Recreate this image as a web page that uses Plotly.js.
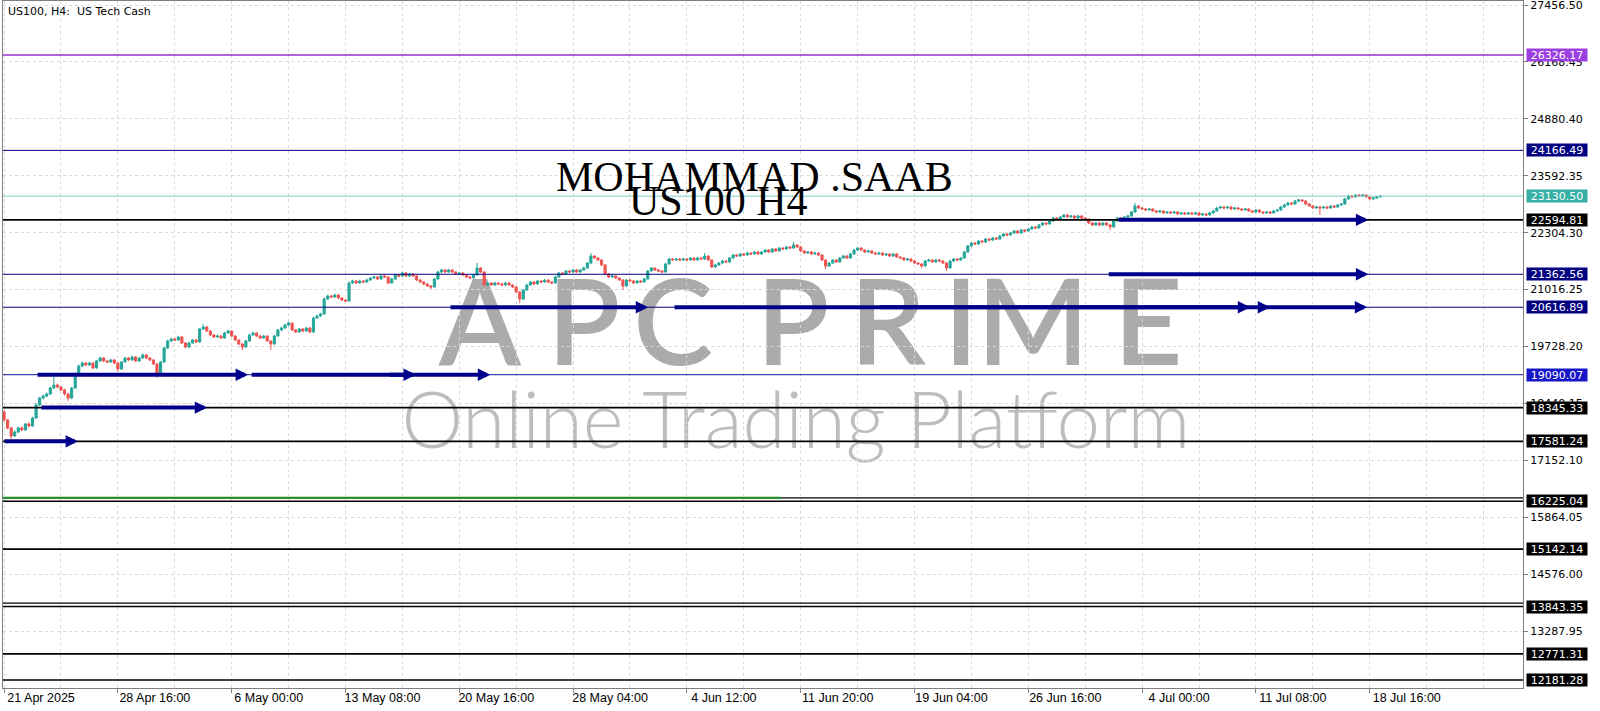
<!DOCTYPE html>
<html>
<head>
<meta charset="utf-8">
<script src="https://cdn.plot.ly/plotly-3.0.1.min.js"></script>
<style>html,body{margin:0;padding:0;background:#fff;}#chart{width:1600px;height:711px;}</style>
</head>
<body>
<div id="chart"></div>
<script>
// ---- Candle data (US100 H4), bar by bar ----
const openP = [
18246,18065,17884,17703,17794,17884,17839,17975,17929,18110,
18405,18563,18608,18653,18789,18857,18812,18744,18653,18563,
18789,19106,19287,19355,19310,19355,19242,19400,19468,19400,
19378,19423,19355,19219,19378,19468,19423,19491,19400,19468,
19536,19468,19423,19332,19129,19378,19694,19853,19898,19875,
19943,19808,19717,19808,19875,19830,20124,20170,20079,19989,
19943,19966,19921,20034,20079,19966,19875,19785,19717,19853,
19989,20034,19966,19921,19966,19853,19785,19966,20102,20147,
20215,20260,20102,20056,20124,20079,20147,20056,20373,20419,
20464,20803,20871,20849,20894,20826,20781,20758,21165,21211,
21165,21211,21188,21233,21278,21301,21256,21324,21301,21165,
21256,21346,21324,21392,21324,21369,21324,21233,21188,21143,
21097,21075,21256,21414,21460,21414,21460,21414,21369,21392,
21346,21301,21278,21346,21505,21414,21120,21165,21120,21165,
21143,21120,21165,21120,21075,20962,20803,21007,21120,21188,
21143,21211,21188,21233,21188,21165,21301,21392,21369,21437,
21414,21460,21414,21460,21505,21618,21776,21731,21686,21573,
21369,21301,21324,21278,21233,21097,21233,21211,21165,21211,
21188,21256,21437,21505,21460,21437,21414,21595,21708,21686,
21708,21686,21708,21686,21731,21686,21731,21708,21776,21686,
21527,21573,21618,21663,21641,21731,21799,21776,21822,21799,
21844,21822,21867,21822,21867,21912,21867,21935,21890,21957,
21935,21980,21957,22025,21980,21890,21844,21867,21822,21844,
21799,21686,21550,21618,21686,21641,21731,21776,21731,21822,
21912,21957,21912,21867,21890,21844,21822,21844,21799,21822,
21776,21822,21754,21731,21686,21708,21663,21618,21595,21550,
21663,21686,21641,21686,21663,21618,21505,21663,21708,21686,
21731,21867,22003,22071,22048,22116,22093,22161,22138,22184,
22161,22229,22274,22252,22297,22342,22297,22365,22342,22387,
22433,22410,22478,22523,22501,22568,22636,22614,22659,22704,
22659,22682,22636,22682,22636,22614,22523,22478,22523,22478,
22523,22478,22433,22568,22636,22614,22659,22682,22772,22908,
22863,22840,22817,22840,22795,22772,22795,22750,22772,22750,
22772,22727,22750,22727,22750,22727,22750,22704,22727,22704,
22750,22795,22863,22885,22863,22885,22840,22863,22840,22817,
22840,22795,22772,22817,22772,22750,22772,22750,22795,22817,
22885,22931,22976,22953,23021,23044,23021,22953,22908,22863,
22885,22863,22885,22863,22908,22885,22931,22953,23066,23134,
23112,23157,23134,23157,23112,23066,23089,23112
];
const highP = [
18290,18090,17910,17830,17915,17920,18000,18010,18140,18450,
18590,18640,18690,18820,19038,18890,18840,18770,18680,18810,
19140,19320,19390,19380,19385,19370,19425,19500,19490,19430,
19450,19445,19370,19400,19495,19490,19520,19510,19490,19570,
19555,19490,19440,19350,19400,19720,19880,19930,19925,19975,
19960,19830,19835,19900,19895,20150,20237,20190,20100,20010,
19995,19985,20060,20110,20095,19985,19890,19800,19875,20015,
20065,20050,19985,19990,19980,19870,19990,20130,20175,20240,
20290,20275,20125,20150,20140,20170,20165,20400,20445,20490,
20835,20900,20895,20925,20910,20845,20800,21195,21240,21230,
21235,21230,21260,21300,21330,21320,21350,21345,21320,21280,
21375,21370,21420,21410,21395,21390,21340,21250,21205,21160,
21120,21280,21440,21490,21480,21485,21475,21430,21415,21410,
21360,21320,21370,21618,21525,21430,21190,21185,21190,21180,
21165,21185,21180,21140,21090,20980,21030,21145,21210,21205,
21235,21230,21255,21250,21210,21325,21415,21410,21460,21455,
21485,21475,21480,21530,21640,21844,21790,21750,21700,21590,
21385,21350,21340,21295,21250,21255,21250,21230,21235,21230,
21280,21460,21530,21520,21480,21455,21620,21730,21725,21730,
21725,21735,21725,21755,21750,21755,21750,21844,21790,21700,
21600,21640,21690,21680,21755,21825,21815,21845,21840,21870,
21860,21890,21885,21890,21935,21930,21960,21950,21980,21975,
22005,22000,22093,22045,21995,21905,21890,21885,21870,21860,
21815,21700,21640,21710,21705,21755,21800,21795,21845,21935,
21980,21975,21930,21915,21905,21865,21870,21860,21845,21840,
21845,21840,21770,21750,21730,21725,21680,21640,21615,21685,
21710,21705,21710,21705,21680,21635,21685,21730,21725,21755,
21890,22025,22095,22090,22140,22135,22185,22180,22205,22200,
22250,22300,22290,22320,22365,22360,22390,22385,22410,22455,
22450,22500,22545,22540,22590,22660,22655,22680,22725,22720,
22705,22700,22705,22700,22655,22630,22540,22545,22540,22545,
22540,22495,22590,22660,22655,22680,22705,22795,22976,22925,
22885,22860,22865,22855,22815,22820,22810,22795,22790,22795,
22790,22775,22770,22775,22770,22775,22765,22750,22745,22775,
22820,22885,22910,22905,22910,22900,22885,22880,22860,22865,
22855,22815,22840,22835,22790,22795,22790,22820,22840,22910,
22955,23000,22995,23045,23070,23060,23040,22970,22925,22910,
22905,22910,22905,22930,22925,22955,22975,23090,23160,23155,
23180,23175,23180,23175,23130,23110,23135,23150
];
const lowP = [
18030,17850,17635,17680,17770,17810,17820,17900,17910,18090,
18380,18530,18580,18630,18770,18790,18720,18620,18495,18540,
18770,19080,19260,19285,19290,19215,19225,19385,19375,19350,
19360,19330,19151,19200,19360,19400,19410,19380,19385,19450,
19445,19400,19310,19016,19110,19360,19675,19830,19850,19860,
19785,19690,19700,19790,19805,19815,20100,20055,19965,19920,
19925,19900,19905,20015,19945,19850,19760,19649,19700,19835,
19970,19945,19895,19900,19830,19649,19770,19950,20085,20125,
20195,20080,20035,20040,20055,20060,20030,20040,20350,20400,
20450,20785,20825,20830,20805,20760,20735,20740,21145,21140,
21150,21165,21170,21215,21260,21235,21240,21280,21140,21150,
21240,21300,21310,21300,21305,21300,21210,21165,21120,21075,
21030,21060,21240,21395,21395,21400,21390,21350,21350,21325,
21280,21255,21265,21330,21390,21095,21100,21100,21105,21120,
21095,21100,21100,21050,20935,20713,20785,20990,21100,21120,
21125,21165,21170,21165,21140,21150,21285,21345,21350,21395,
21400,21395,21400,21445,21490,21600,21710,21665,21550,21345,
21280,21285,21255,21210,21007,21080,21190,21145,21150,21165,
21170,21240,21420,21440,21415,21390,21400,21580,21665,21670,
21665,21670,21665,21670,21665,21670,21690,21690,21665,21505,
21505,21555,21600,21620,21625,21715,21755,21760,21780,21785,
21800,21805,21800,21805,21850,21845,21850,21870,21875,21915,
21920,21935,21940,21960,21870,21820,21825,21800,21805,21775,
21665,21482,21530,21600,21620,21625,21715,21710,21715,21805,
21895,21890,21845,21850,21820,21800,21805,21780,21780,21755,
21760,21735,21710,21665,21670,21640,21595,21575,21505,21535,
21645,21620,21625,21640,21595,21437,21490,21645,21665,21670,
21715,21850,21985,22025,22030,22070,22075,22115,22120,22140,
22145,22210,22230,22235,22280,22275,22280,22320,22325,22370,
22390,22395,22460,22480,22485,22550,22595,22595,22640,22640,
22640,22615,22620,22615,22590,22500,22455,22460,22455,22460,
22455,22365,22415,22550,22595,22595,22640,22665,22755,22840,
22820,22795,22800,22775,22750,22755,22730,22735,22730,22735,
22705,22710,22705,22710,22705,22710,22685,22685,22685,22690,
22735,22780,22845,22845,22845,22820,22825,22820,22795,22800,
22775,22750,22755,22750,22730,22735,22730,22735,22780,22800,
22865,22915,22935,22935,23000,23000,22930,22885,22840,22845,
22704,22845,22845,22845,22865,22865,22915,22935,23050,23090,
23095,23115,23115,23090,23045,23050,23070,23095
];
const closeP = [
18065,17884,17703,17794,17884,17839,17975,17929,18110,18405,
18563,18608,18653,18789,18857,18812,18744,18653,18563,18789,
19106,19287,19355,19310,19355,19242,19400,19468,19400,19378,
19423,19355,19219,19378,19468,19423,19491,19400,19468,19536,
19468,19423,19332,19129,19378,19694,19853,19898,19875,19943,
19808,19717,19808,19875,19830,20124,20170,20079,19989,19943,
19966,19921,20034,20079,19966,19875,19785,19717,19853,19989,
20034,19966,19921,19966,19853,19785,19966,20102,20147,20215,
20260,20102,20056,20124,20079,20147,20056,20373,20419,20464,
20803,20871,20849,20894,20826,20781,20758,21165,21211,21165,
21211,21188,21233,21278,21301,21256,21324,21301,21165,21256,
21346,21324,21392,21324,21369,21324,21233,21188,21143,21097,
21075,21256,21414,21460,21414,21460,21414,21369,21392,21346,
21301,21278,21346,21505,21414,21120,21165,21120,21165,21143,
21120,21165,21120,21075,20962,20803,21007,21120,21188,21143,
21211,21188,21233,21188,21165,21301,21392,21369,21437,21414,
21460,21414,21460,21505,21618,21776,21731,21686,21573,21369,
21301,21324,21278,21233,21097,21233,21211,21165,21211,21188,
21256,21437,21505,21460,21437,21414,21595,21708,21686,21708,
21686,21708,21686,21731,21686,21731,21708,21776,21686,21527,
21573,21618,21663,21641,21731,21799,21776,21822,21799,21844,
21822,21867,21822,21867,21912,21867,21935,21890,21957,21935,
21980,21957,22025,21980,21890,21844,21867,21822,21844,21799,
21686,21550,21618,21686,21641,21731,21776,21731,21822,21912,
21957,21912,21867,21890,21844,21822,21844,21799,21822,21776,
21822,21754,21731,21686,21708,21663,21618,21595,21550,21663,
21686,21641,21686,21663,21618,21505,21663,21708,21686,21731,
21867,22003,22071,22048,22116,22093,22161,22138,22184,22161,
22229,22274,22252,22297,22342,22297,22365,22342,22387,22433,
22410,22478,22523,22501,22568,22636,22614,22659,22704,22659,
22682,22636,22682,22636,22614,22523,22478,22523,22478,22523,
22478,22433,22568,22636,22614,22659,22682,22772,22908,22863,
22840,22817,22840,22795,22772,22795,22750,22772,22750,22772,
22727,22750,22727,22750,22727,22750,22704,22727,22704,22750,
22795,22863,22885,22863,22885,22840,22863,22840,22817,22840,
22795,22772,22817,22772,22750,22772,22750,22795,22817,22885,
22931,22976,22953,23021,23044,23021,22953,22908,22863,22885,
22863,22885,22863,22908,22885,22931,22953,23066,23134,23112,
23157,23134,23157,23112,23066,23089,23112,23130.5
];

// ---- Time axis labels (bar index of each label) ----
const timeLabelBars = [0, 32, 64, 96, 128, 160, 192, 224, 256, 288, 320, 352, 384];
const timeLabels = ['21 Apr 2025', '28 Apr 16:00', '6 May 00:00', '13 May 08:00', '20 May 16:00',
  '28 May 04:00', '4 Jun 12:00', '11 Jun 20:00', '19 Jun 04:00', '26 Jun 16:00',
  '4 Jul 00:00', '11 Jul 08:00', '18 Jul 16:00'];

// ---- Price axis ticks ----
const priceTicks = [13287.95, 14576.00, 15864.05, 17152.10, 18440.15, 19728.20, 21016.25,
  22304.30, 23592.35, 24880.40, 26168.45, 27456.50];

// ---- Horizontal levels ----
const levels = [26326.17, 24166.49, 23130.50, 22594.81, 21362.56, 20616.89, 19090.07,
  18345.33, 17581.24, 16225.04, 15142.14, 13843.35, 12771.31, 12181.28];
const levelLine = ['#9932cc', '#000080', '#7fcdc6', '#000000', '#000080', '#000080', '#10109c',
  '#000000', '#000000', '#000000', '#000000', '#000000', '#000000', '#000000'];
const levelBox = ['#9b3fe0', '#000080', '#36b0a6', '#000000', '#000080', '#000080', '#1717c8',
  '#000000', '#000000', '#000000', '#000000', '#000000', '#000000', '#000000'];
const levelDouble = [false, false, false, false, false, false, false,
  false, false, true, false, true, false, false];

// ---- Drawn arrows (price level, start bar, end bar) ----
const arrowLevel = [17581.24, 18345.33, 19090.07, 19090.07, 19090.07, 20616.89, 20616.89,
  20616.89, 20616.89, 21362.56, 22594.81];
const arrowFrom = [-0.3, 10.1, 9.0, 69.2, 108.0, 125.1, 188.1, 245.8, 354.6, 310.2, 313.0];
const arrowTo = [20.8, 57.1, 68.6, 115.8, 136.7, 181.1, 350.4, 356.0, 383.3, 383.6, 383.6];

// green segment on 16225 level (start bar, end bar)
const greenFrom = -0.3, greenTo = 218.5;

// ---- Watermark letters (text, centre as fraction of plot width) ----
const wmLetters = ['A', 'P', 'C', 'P', 'R', 'I', 'M', 'E'];
const wmCentres = [0.3138, 0.3822, 0.4408, 0.5197, 0.5822, 0.6303, 0.6776, 0.7533];

const bars = closeP.map((_, i) => i);

const trace = {
  type: 'candlestick',
  x: bars, open: openP, high: highP, low: lowP, close: closeP,
  increasing: { line: { color: '#26a69a', width: 1 }, fillcolor: '#26a69a' },
  decreasing: { line: { color: '#ef5350', width: 1 }, fillcolor: '#ef5350' },
  whiskerwidth: 0,
  hoverinfo: 'skip',
  showlegend: false
};

const shapes = [];
// watermark (below candles)
wmLetters.forEach((ch, i) => {
  shapes.push({
    type: 'rect', xref: 'paper', yref: 'paper',
    x0: wmCentres[i] - 0.04, x1: wmCentres[i] + 0.04, y0: 0.455, y1: 0.625,
    line: { width: 0 }, fillcolor: 'rgba(0,0,0,0)', layer: 'below',
    label: { text: ch, textposition: 'middle center',
      font: { family: 'Lato', size: 120, color: '#ababab', weight: 600 } }
  });
});
shapes.push({
  type: 'rect', xref: 'paper', yref: 'paper', x0: 0.2664, x1: 0.7770, y0: 0.345, y1: 0.445,
  line: { width: 0 }, fillcolor: 'rgba(0,0,0,0)', layer: 'below',
  label: { text: 'Online Trading Platform', textposition: 'middle center',
    font: { family: 'Lato', size: 78, color: '#bdbdbd', weight: 300 } }
});
levels.forEach((p, i) => {
  const w = levelLine[i] === '#000000' ? 1.6 : (i === 0 ? 1.5 : 1);
  shapes.push({ type: 'line', xref: 'paper', x0: 0, x1: 1, yref: 'y', y0: p, y1: p,
    line: { color: levelLine[i], width: w } });
  if (levelDouble[i]) {
    shapes.push({ type: 'line', xref: 'paper', x0: 0, x1: 1, yref: 'y', ysizemode: 'pixel',
      yanchor: p, y0: 3.5, y1: 3.5, line: { color: levelLine[i], width: 1.2 } });
  }
});
shapes.push({ type: 'line', xref: 'x', x0: greenFrom, x1: greenTo, yref: 'y', ysizemode: 'pixel',
  yanchor: levels[9], y0: 3.5, y1: 3.5, line: { color: '#1f8f1f', width: 2 } });

const annotations = [];
arrowLevel.forEach((p, i) => {
  annotations.push({
    x: arrowTo[i], y: p, ax: arrowFrom[i], ay: p,
    xref: 'x', yref: 'y', axref: 'x', ayref: 'y',
    text: '', showarrow: true, arrowhead: 2, arrowsize: 0.62, arrowwidth: 4,
    arrowcolor: '#00008b', standoff: 0, startstandoff: 0
  });
});
levels.forEach((p, i) => {
  annotations.push({
    xref: 'paper', x: 1, xanchor: 'left', xshift: 3, yref: 'y', y: p, yanchor: 'middle',
    text: p.toFixed(2), showarrow: false, bgcolor: levelBox[i], borderpad: 0,
    width: 60, height: 12, align: 'center',
    font: { family: 'DejaVu Sans', size: 11, color: '#ffffff' }
  });
});
annotations.push({
  xref: 'paper', yref: 'paper', x: 0, y: 1, xanchor: 'left', yanchor: 'top', xshift: 3, yshift: -2,
  text: 'US100, H4:\u00a0 US Tech Cash', showarrow: false,
  font: { family: 'DejaVu Sans', size: 11, color: '#000000' }
});
annotations.push({
  xref: 'paper', yref: 'paper', x: 0.4944, y: 0.7445, xanchor: 'center', yanchor: 'middle',
  text: 'MOHAMMAD .SAAB', showarrow: false,
  font: { family: 'Liberation Serif', size: 42, color: '#000000' }
});
annotations.push({
  xref: 'paper', yref: 'paper', x: 0.4707, y: 0.7082, xanchor: 'center', yanchor: 'middle',
  text: 'US100 H4', showarrow: false,
  font: { family: 'Liberation Serif', size: 42, color: '#000000' }
});

const layout = {
  width: 1600, height: 711,
  margin: { l: 3, r: 77, t: 1, b: 23, pad: 0 },
  paper_bgcolor: '#ffffff', plot_bgcolor: '#ffffff',
  showlegend: false,
  boxgap: 0.15,
  xaxis: {
    range: [-0.3, 427.1], fixedrange: true,
    rangeslider: { visible: false },
    tickmode: 'array', tickvals: timeLabelBars, ticktext: timeLabels,
    ticks: 'outside', ticklen: 4, tickcolor: '#808080',
    tickfont: { family: 'Liberation Sans', size: 12.5, color: '#000000' },
    ticklabelshift: 37, ticklabelstandoff: -6,
    showgrid: true, gridcolor: '#d9d9d9', griddash: 'dot', gridwidth: 1,
    minor: { tick0: 0, dtick: 16, showgrid: true, gridcolor: '#d9d9d9', griddash: 'dot', ticks: '' },
    showline: true, linecolor: '#7f7f7f', linewidth: 1, mirror: true, zeroline: false
  },
  yaxis: {
    side: 'right', range: [11999.9, 27547.0], fixedrange: true,
    tickmode: 'array', tickvals: priceTicks, ticktext: priceTicks.map(v => v.toFixed(2)),
    ticks: 'outside', ticklen: 4, tickcolor: '#808080', ticklabeloverflow: 'allow',
    tickfont: { family: 'DejaVu Sans', size: 11, color: '#000000' },
    showgrid: true, gridcolor: '#d9d9d9', griddash: 'dot', gridwidth: 1,
    showline: true, linecolor: '#7f7f7f', linewidth: 1, mirror: true, zeroline: false
  },
  shapes: shapes,
  annotations: annotations
};

Plotly.newPlot('chart', [trace], layout, { displayModeBar: false, staticPlot: true });
</script>
</body>
</html>
